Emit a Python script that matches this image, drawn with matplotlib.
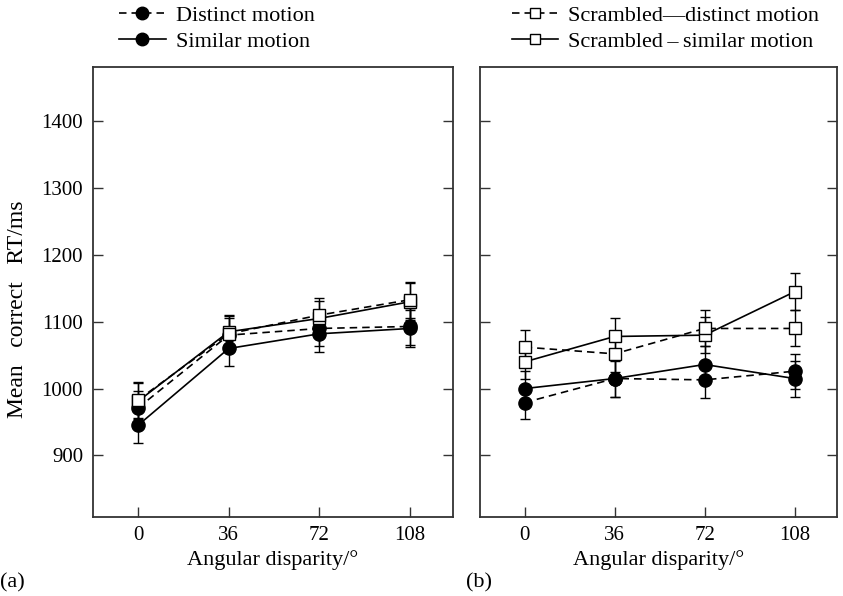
import numpy as np
import matplotlib.pyplot as plt
from matplotlib.lines import Line2D

plt.rcParams['font.family'] = ['Liberation Serif', 'DejaVu Serif']
plt.rcParams['font.size'] = 15

angles = [0, 36, 72, 108]

# panel (a)
a_distinct = [971, 1080, 1090, 1093]
a_similar = [945, 1060, 1082, 1090]
a_scr_distinct = [983, 1082, 1110, 1133]
a_scr_similar = [981, 1085, 1105, 1130]
a_err_distinct = [26, 26, 27, 28]
a_err_similar = [26, 26, 27, 28]
a_err_scr_distinct = [27, 26, 25, 27]
a_err_scr_similar = [27, 25, 26, 28]

# panel (b)
b_distinct = [979, 1015, 1013, 1026]
b_similar = [1000, 1015, 1036, 1015]
b_scr_distinct = [1062, 1052, 1090, 1090]
b_scr_similar = [1040, 1078, 1080, 1145]
b_err_distinct = [25, 27, 27, 26]
b_err_similar = [26, 28, 27, 27]
b_err_scr_distinct = [25, 27, 27, 27]
b_err_scr_similar = [26, 27, 27, 28]

labels_a = ["Distinct motion", "Similar motion"]
labels_b = ["Scrambled\u2014distinct motion", "Scrambled\u2009\u2013\u2009similar motion"]

dash = (0, (4.5, 3))
col = 'black'


def draw(ax, y, err, ls, marker, face):
    ax.errorbar(angles, y, yerr=err, color=col, ls=ls, lw=1.2, marker=marker,
                ms=9.5 if marker == 'o' else 8, mfc=face, mec=col, mew=1.0,
                elinewidth=1.0, capsize=3.5, capthick=1.0)


fig = plt.figure(figsize=(8.43, 5.96), dpi=100)
ax1 = fig.add_axes([0.110, 0.133, 0.427, 0.755])
ax2 = fig.add_axes([0.569, 0.133, 0.424, 0.755])

draw(ax1, a_similar, a_err_similar, '-', 'o', col)
draw(ax1, a_distinct, a_err_distinct, dash, 'o', col)
draw(ax1, a_scr_similar, a_err_scr_similar, '-', 's', 'white')
draw(ax1, a_scr_distinct, a_err_scr_distinct, dash, 's', 'white')

draw(ax2, b_similar, b_err_similar, '-', 'o', col)
draw(ax2, b_distinct, b_err_distinct, dash, 'o', col)
draw(ax2, b_scr_similar, b_err_scr_similar, '-', 's', 'white')
draw(ax2, b_scr_distinct, b_err_scr_distinct, dash, 's', 'white')

for ax in (ax1, ax2):
    ax.set_xlim(-18, 125)
    ax.set_ylim(808, 1482)
    ax.set_xticks(angles)
    ax.set_yticks([900, 1000, 1100, 1200, 1300, 1400])
    ax.tick_params(direction='in', length=7, width=1.0, right=True,
                   top=False, labelsize=15, color='#333333', pad=7)
    for s in ax.spines.values():
        s.set_linewidth(1.3)
        s.set_color('#333333')
    ax.set_xlabel("Angular disparity/\u00b0", fontsize=16, labelpad=3)

ax2.tick_params(labelleft=False)
ax1.set_ylabel("Mean   correct   RT/ms", fontsize=17)
ax1.yaxis.set_label_coords(-0.18, 0.46)

fig.text(0.0, 0.015, "(a)", fontsize=16)
fig.text(0.553, 0.015, "(b)", fontsize=16)

h_a = [Line2D([], [], color=col, ls=dash, lw=1.2, marker='o', ms=9, mfc=col),
       Line2D([], [], color=col, ls='-', lw=1.2, marker='o', ms=9, mfc=col)]
h_b = [Line2D([], [], color=col, ls=dash, lw=1.2, marker='s', ms=7, mfc='white'),
       Line2D([], [], color=col, ls='-', lw=1.2, marker='s', ms=7, mfc='white')]

leg_kw = dict(frameon=False, handlelength=2.1, handletextpad=0.45,
              labelspacing=0.25, borderaxespad=0, fontsize=16, borderpad=0)
fig.legend(h_a, labels_a, loc='upper left', bbox_to_anchor=(0.141, 0.991), **leg_kw)
fig.legend(h_b, labels_b, loc='upper left', bbox_to_anchor=(0.607, 0.991), **leg_kw)

fig.savefig("out.png", dpi=100)
